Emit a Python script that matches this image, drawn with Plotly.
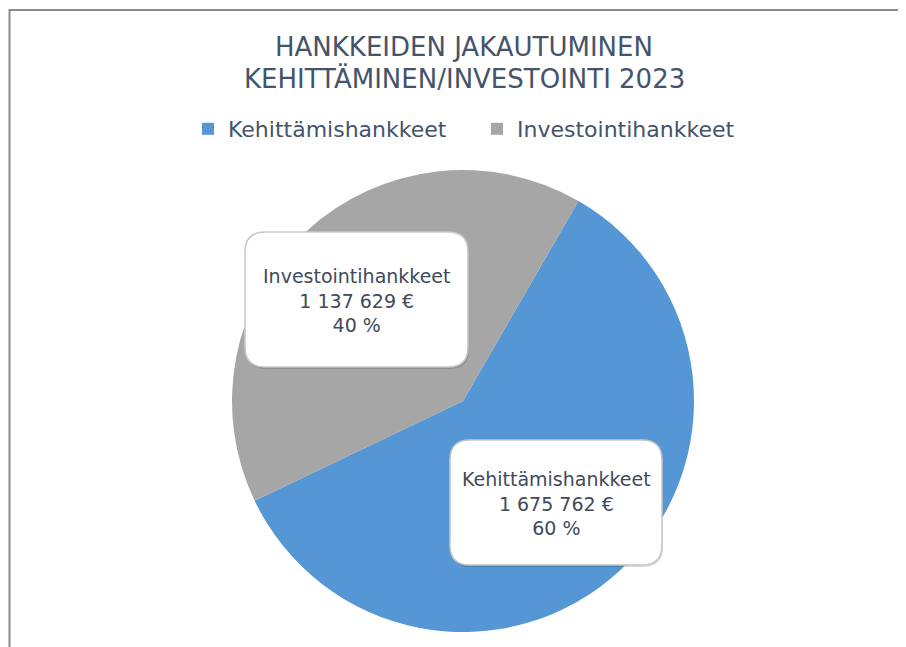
import plotly.graph_objects as go

categories = ["Kehittämishankkeet", "Investointihankkeet"]
values = [1675762, 1137629]
percents = [60, 40]
title_lines = ["HANKKEIDEN JAKAUTUMINEN", "KEHITTÄMINEN/INVESTOINTI 2023"]

colors = ["#5596d4", "#a6a6a6"]
W, H = 906, 647
OFF = 8  # page body margin in the screenshot

def fmt(v):
    return f"{v:,}".replace(",", " ") + " €"

def px_x(x):
    return (x - OFF) / W

def px_y(y):
    return 1 - (y - OFF) / H

fig = go.Figure()
fig.add_trace(go.Pie(
    labels=categories,
    values=values,
    sort=False,
    direction="clockwise",
    rotation=30,
    marker=dict(colors=colors, line=dict(width=0)),
    textinfo="none",
    hoverinfo="skip",
    domain=dict(x=[px_x(232), px_x(694)], y=[px_y(632), px_y(170)]),
))

def rounded_rect(x0, y0, x1, y1, r):
    X = lambda v: f"{px_x(v):.5f}"
    Y = lambda v: f"{px_y(v):.5f}"
    return (f"M {X(x0 + r)},{Y(y0)} L {X(x1 - r)},{Y(y0)} "
            f"Q {X(x1)},{Y(y0)} {X(x1)},{Y(y0 + r)} L {X(x1)},{Y(y1 - r)} "
            f"Q {X(x1)},{Y(y1)} {X(x1 - r)},{Y(y1)} L {X(x0 + r)},{Y(y1)} "
            f"Q {X(x0)},{Y(y1)} {X(x0)},{Y(y1 - r)} L {X(x0)},{Y(y0 + r)} "
            f"Q {X(x0)},{Y(y0)} {X(x0 + r)},{Y(y0)} Z")

boxes = [
    (450, 440, 662, 565, 0),
    (245, 232, 468, 367, 1),
]
shapes = []
annotations = []
for (x0, y0, x1, y1, i) in boxes:
    shapes.append(dict(type="path", xref="paper", yref="paper",
                       path=rounded_rect(x0 + 1, y0 + 2, x1 + 1, y1 + 2, 20),
                       fillcolor="rgba(0,0,0,0.15)", line=dict(width=0)))
    shapes.append(dict(type="path", xref="paper", yref="paper",
                       path=rounded_rect(x0, y0, x1, y1, 20),
                       fillcolor="white", line=dict(color="#c8c8c8", width=1.5)))
    annotations.append(dict(
        x=px_x((x0 + x1) / 2), y=px_y((y0 + y1) / 2 + 1), xref="paper", yref="paper",
        text=f"{categories[i]}<br>{fmt(values[i])}<br>{percents[i]} %", showarrow=False,
        font=dict(family="DejaVu Sans", size=19, color="#404a5a"),
        align="center", xanchor="center", yanchor="middle"))

for line, yc in zip(title_lines, [47, 78]):
    annotations.append(dict(
        x=px_x(464), y=px_y(yc), xref="paper", yref="paper", text=line, showarrow=False,
        font=dict(family="DejaVu Sans", size=26, color="#44546a"),
        xanchor="center", yanchor="middle"))

# chart border
shapes.append(dict(type="rect", xref="paper", yref="paper",
                   x0=px_x(9.5), y0=px_y(720), x1=px_x(960), y1=px_y(10),
                   line=dict(color="#8c8c8c", width=2), fillcolor="rgba(0,0,0,0)", layer="below"))

fig.update_layout(
    width=W, height=H,
    margin=dict(l=0, r=0, t=0, b=0),
    paper_bgcolor="white",
    plot_bgcolor="white",
    showlegend=True,
    legend=dict(orientation="h", x=px_x(477), xanchor="center", y=px_y(129), yanchor="middle",
                font=dict(family="DejaVu Sans", size=22, color="#44546a"),
                itemwidth=30, entrywidth=244, entrywidthmode="pixels"),
    shapes=shapes,
    annotations=annotations,
)

fig.write_html("out.html")
